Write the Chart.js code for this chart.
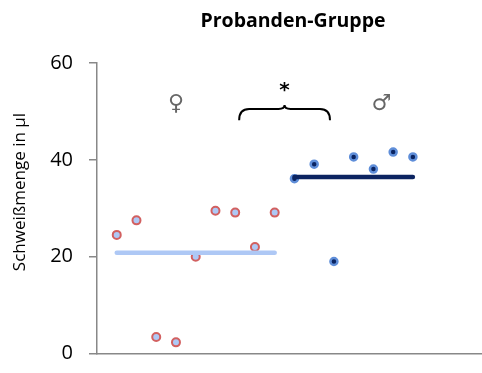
<!DOCTYPE html>
<html>
<head>
<meta charset="utf-8">
<script src="https://cdn.jsdelivr.net/npm/chart.js@4"></script>
<style>
  html, body { margin: 0; padding: 0; background: #fff; }
  #wrap { width: 482px; height: 373px; }
</style>
</head>
<body>
<div id="wrap"><canvas id="sweatChart"></canvas></div>
<script>
// Schweißmenge je Proband (µl)
const femaleX = [1, 2, 3, 4, 5, 6, 7, 8, 9];
const femaleY = [24.5, 27.5, 3.4, 2.3, 20, 29.5, 29.1, 22, 29.1];
const maleX = [10, 11, 12, 13, 14, 15, 16];
const maleY = [36.1, 39.1, 19, 40.6, 38.1, 41.6, 40.6];
const yTicks = [0, 20, 40, 60];

const mean = arr => arr.reduce((a, b) => a + b, 0) / arr.length;
const femaleMean = mean(femaleY);
const maleMean = mean(maleY);

const toPoints = (xs, ys) => xs.map((x, i) => ({ x: x, y: ys[i] }));

// title, axis label, sex symbols and significance brace
const annotations = {
  id: 'annotations',
  afterDraw(chart) {
    const ctx = chart.ctx;
    const xs = chart.scales.x, ys = chart.scales.y;
    ctx.save();
    ctx.fillStyle = '#000';
    ctx.textAlign = 'center';
    ctx.textBaseline = 'middle';
    ctx.font = 'bold 19.5px "Open Sans"';
    ctx.fillText('Probanden-Gruppe', 293, 21);

    ctx.save();
    ctx.translate(20, 192);
    ctx.rotate(-Math.PI / 2);
    ctx.font = '17px "Open Sans"';
    ctx.fillText('Schweißmenge in µl', 0, 0);
    ctx.restore();

    ctx.fillStyle = '#666';
    ctx.font = '22px "DejaVu Sans ExtraLight", "DejaVu Sans"';
    ctx.fillText('♀', xs.getPixelForValue(4), ys.getPixelForValue(51.5));
    ctx.fillText('♂', xs.getPixelForValue(14.4), ys.getPixelForValue(51.5));

    ctx.fillStyle = '#000';
    ctx.font = 'bold 20px "DejaVu Sans"';
    ctx.fillText('*', xs.getPixelForValue(9.5), ys.getPixelForValue(54.3));

    // curly brace between the groups
    const x0 = xs.getPixelForValue(7.2), x1 = xs.getPixelForValue(11.8);
    const xm = (x0 + x1) / 2;
    const yb = ys.getPixelForValue(48.2), yt = ys.getPixelForValue(50.5), ypk = ys.getPixelForValue(51.3);
    ctx.strokeStyle = '#000';
    ctx.lineWidth = 2;
    ctx.beginPath();
    ctx.moveTo(x0, yb);
    ctx.quadraticCurveTo(x0, yt, x0 + 10, yt);
    ctx.lineTo(xm - 6, yt);
    ctx.quadraticCurveTo(xm, yt, xm, ypk);
    ctx.quadraticCurveTo(xm, yt, xm + 6, yt);
    ctx.lineTo(x1 - 10, yt);
    ctx.quadraticCurveTo(x1, yt, x1, yb);
    ctx.stroke();
    ctx.restore();
  }
};

new Chart(document.getElementById('sweatChart'), {
  type: 'scatter',
  data: {
    datasets: [
      {
        label: 'Mittelwert weiblich',
        data: [{ x: femaleX[0], y: femaleMean }, { x: femaleX[femaleX.length - 1], y: femaleMean }],
        showLine: true,
        borderColor: '#aec8f5',
        borderWidth: 4.5,
        borderCapStyle: 'round',
        pointRadius: 0
      },
      {
        label: 'Mittelwert männlich',
        data: [{ x: maleX[0], y: maleMean }, { x: maleX[maleX.length - 1], y: maleMean }],
        showLine: true,
        borderColor: '#0c2461',
        borderWidth: 4.5,
        borderCapStyle: 'round',
        pointRadius: 0
      },
      {
        label: 'weiblich',
        data: toPoints(femaleX, femaleY),
        backgroundColor: '#aec8f5',
        borderColor: '#d26060',
        borderWidth: 2,
        pointRadius: 4
      },
      {
        label: 'männlich',
        data: toPoints(maleX, maleY),
        backgroundColor: '#0a2462',
        borderColor: '#5f8ed9',
        borderWidth: 2.5,
        pointRadius: 3.5
      }
    ]
  },
  options: {
    responsive: true,
    maintainAspectRatio: false,
    animation: false,
    layout: { autoPadding: false, padding: { top: 63, right: 0, bottom: 19.5, left: 0 } },
    plugins: {
      legend: { display: false },
      tooltip: { enabled: false }
    },
    scales: {
      x: {
        type: 'linear',
        min: 0,
        max: 19.5,
        ticks: { display: false },
        grid: { display: false },
        border: { display: true, color: '#888', width: 1.5 },
        afterFit: scale => { scale.height = 0; }
      },
      y: {
        min: 0,
        max: 60,
        afterBuildTicks: scale => { scale.ticks = yTicks.map(v => ({ value: v })); },
        ticks: {
          color: '#000',
          font: { family: 'Open Sans', size: 20 },
          padding: 16
        },
        grid: { drawOnChartArea: false, drawTicks: true, tickLength: 8, color: '#888', lineWidth: 1.5 },
        border: { color: '#888', width: 1.5 },
        afterFit: scale => {
          scale.width = 97;
          scale.paddingTop = 0;
          scale.paddingBottom = 0;
        }
      }
    }
  },
  plugins: [annotations]
});
</script>
</body>
</html>
